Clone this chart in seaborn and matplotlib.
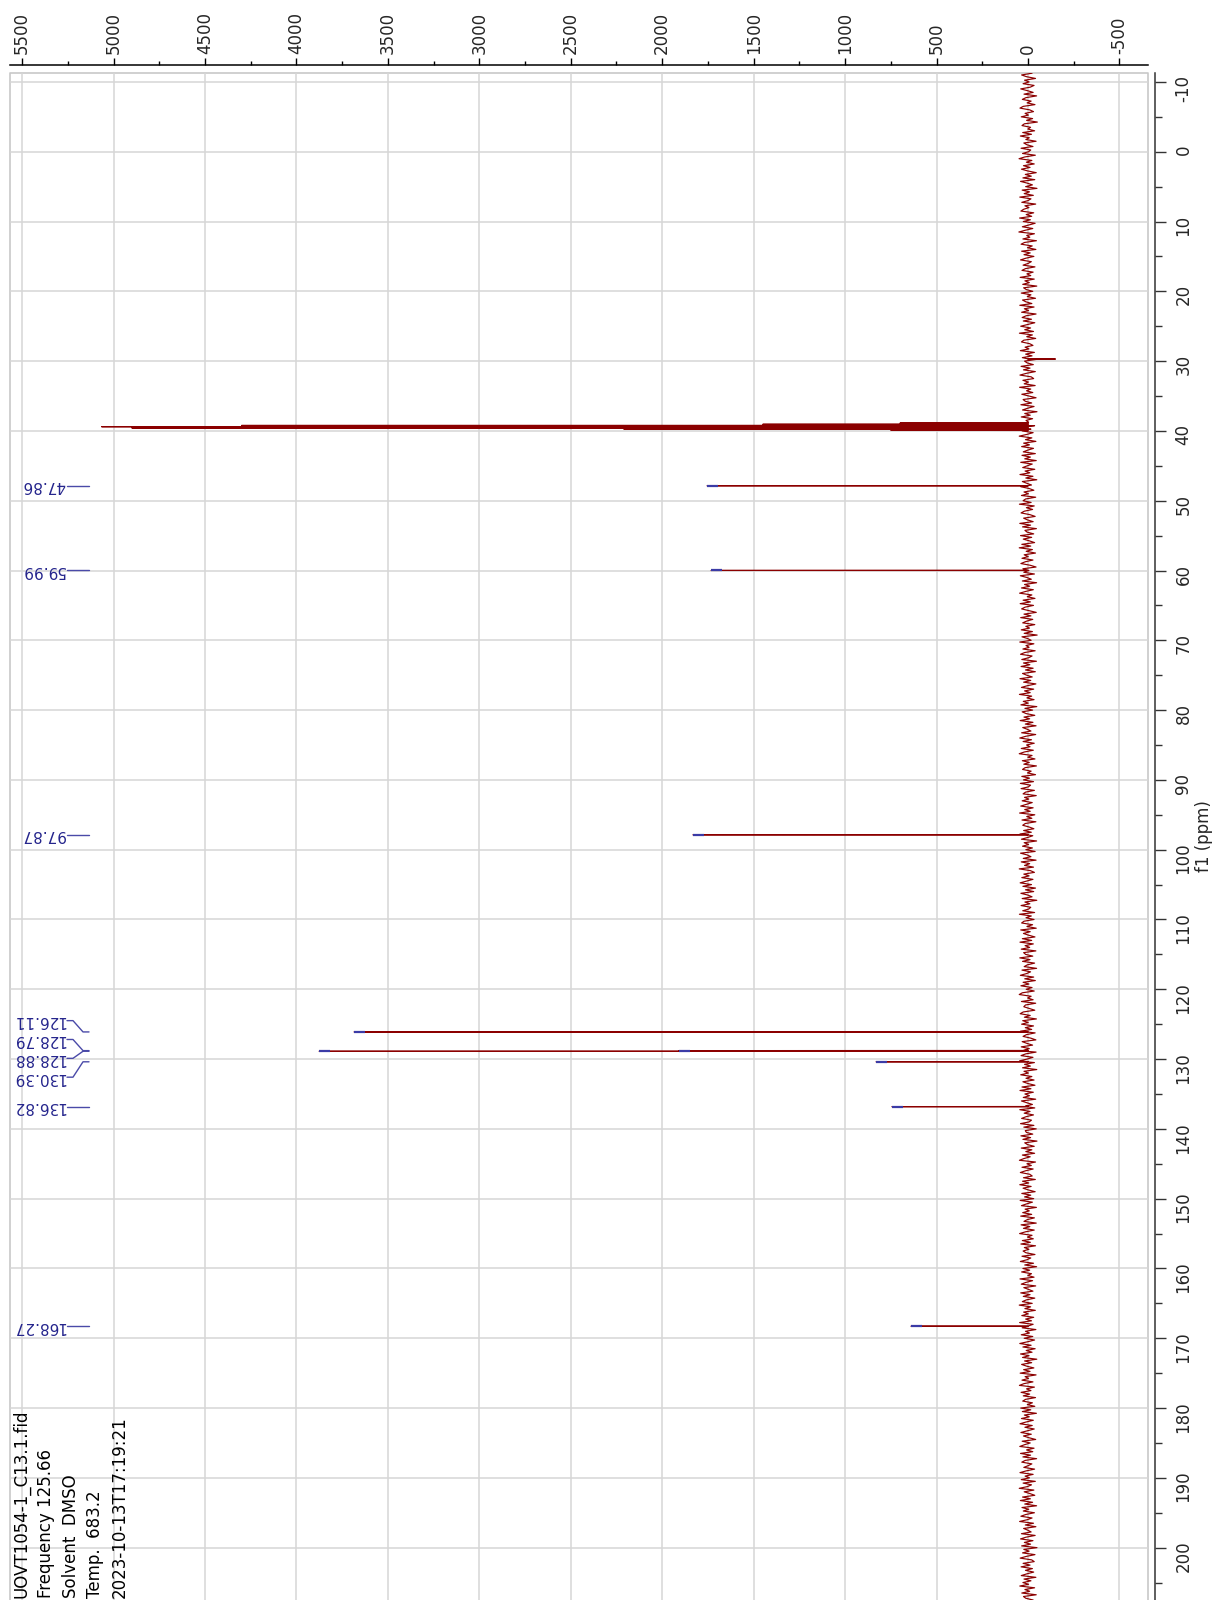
import numpy as np
import matplotlib
matplotlib.use("Agg")
import matplotlib.pyplot as plt
import matplotlib.transforms as mtransforms
import seaborn as sns

sns.set_style("white")
plt.rcParams["font.family"] = ["DejaVu Sans"]
plt.rcParams["axes.unicode_minus"] = False

# --- 13C spectrum data -------------------------------------------------------
# baseline noise, sampled every 0.25 ppm starting at -11.5 ppm
noise_start_ppm = -11.5
noise_step_ppm = 0.25
baseline_noise = [
    14, -22, 35, 8, -41, 19, -6, 27, -33, -12, 40, 3, -28, 22, -47, 11, 31, -17, 5, -38,
    26, 44, -9, -30, 16, -2, 37, -25, 8, -51, 20, 33, -14, 1, -36, 29, -19, 42, -7, 12,
    -44, 23, 6, -27, 38, -15, -3, 30, -40, 18, 49, -21, 9, -34, 25, -11, 36, 2, -45, 15,
    -18, 28, -37, 41, 4, -24, 13, -49, 32, -8, 21, -29, 45, -16, 0, 34, -42, 17, -5, 24,
    39, -31, 10, -20, 46, -13, 26, -39, -4, 31, -26, 15, 50, -35, 7, -10, 28, -46, 19, 38,
    -23, 3, -43, 35, -12, 22, -32, 11, 41, -18, -1, 27, -38, 14, 33, -28, 6, -15, 43, -34,
    17, -7, 29, -48, 24, 9, -26, 37, -16, 4, -41, 30, 12, -21, 45, -33, 20, -3, 35, -44,
    10, 32, -19, 26, -37, 1, 40, -14, 18, -30, 47, -24, 7, -42, 23, 36, -9, -27, 16, -5,
    42, -35, 13, -22, 31, -47, 19, 5, -29, 38, -11, 25, -40, 9, 44, -17, -31, 28, -2, 21,
    -39, 46, -15, 8, -26, 34, -6, -44, 27, 15, -20, 39, -33, 2, 30, -49, 18, -12, 37, -25,
    11, -3, 43, -36, 20, -16, 32, -28, 6, 48, -21, 14, -43, 24, -8, 35, -30, 1, 26, -40,
    33, -13, 18, -45, 40, -23, 4, 29, -37, 16, -10, 44, -27, 12, -48, 31, 7, -19, 39, -6,
    -32, 22, -2, 36, -42, 13, 27, -17, 47, -34, 9, -25, 20, 38, -11, -39, 24, 3, -28, 45,
    -14, 30, -46, 17, 5, -31, 41, -20, 26, -7, -36, 34, -15, 48, -24, 10, -41, 21, -1, 33,
    -27, 15, 39, -12, -44, 28, -5, 23, -35, 42, 6, -18, 31, -47, 19, -9, 36, -29, 13, 46,
    -21, 4, -38, 27, -13, 43, -30, 16, 35, -4, -45, 22, -16, 40, -26, 8, 29, -37, 12, -8,
    37, -24, 21, -50, 33, 2, -17, 45, -32, 11, -6, 28, -39, 18, 41, -22, -3, 34, -46, 25,
    -10, 38, -28, 14, -40, 30, 7, -23, 44, -15, 24, -43, 3, 36, -31, 19, -12, 47, -20, 6,
    -33, 26, -1, 39, -48, 17, -25, 32, 10, -37, 22, -9, 43, -27, 15, -44, 29, 4, -16, 35,
    -42, 12, 45, -19, 27, -34, 8, -11, 37, -29, 20, 48, -22, 1, -38, 31, -7, 23, -46, 16,
    30, -17, 3, -41, 34, -8, 25, -30, 42, -14, -2, 38, -35, 13, 27, -45, 19, -4, 32, -23,
    9, 40, -28, 18, -12, 46, -37, 7, -21, 33, -43, 15, 29, -6, -32, 24, -18, 44, -26, 2,
    36, -47, 21, -3, 30, -24, 12, -39, 41, 5, -16, 26, -44, 37, -9, 19, -30, 48, -13, -35,
    23, -6, 34, -27, 8, 43, -19, 28, -41, 14, -31, 39, 1, -22, 32, -48, 17, -10, 38, -15,
    -4, 29, -36, 47, -18, 11, -33, 22, 35, -25, 6, -45, 40, -12, 25, -3, -38, 31, -20, 44,
    -29, 16, -9, 37, -43, 24, 13, -26, 45, -11, 30, -36, 4, 21, -47, 33, -14, 8, 42, -31,
    18, -40, 27, -5, 39, -22, 10, -34, 31, 48, -17, 2, -28, 36, -42, 14, 23, -8, -37, 26,
    43, -12, 20, -46, 29, -1, 35, -30, 15, -20, 41, -39, 9, 27, -15, -43, 32, 6, -25, 37,
    -7, 24, -44, 12, 38, -27, 5, 46, -35, 19, -13, 30, -48, 22, -2, 40, -21, 11, -33, 28,
    1, -38, 33, -16, 44, -29, 17, -8, 26, -42, 36, 7, -24, 14, -37, 45, -11, 21, -30, 10,
    35, -19, -6, 41, -32, 23, -45, 15, 9, -26, 39, -14, 28, -49, 18, 3, -34, 37, -21, 12,
    -36, 31, -12, 22, 47, -41, 6, -18, 33, -28, 13, 42, -9, -23, 25, -40, 30, -4, 45, -17,
    27, -2, -39, 34, -15, 19, -31, 43, -24, 8, 36, -46, 16, -7, 29, -20, 40, -35, 4, 22,
    -45, 38, -10, 25, -34, 14, 46, -22, 3, -29, 31, -13, 39, -41, 20, -5, 27, 11, -38, 33,
    -15, 6, 42, -30, 18, -47, 28, -9, 35, -19, 1, -33, 44, -25, 12, 37, -42, 23, -3, -27,
    40, -11, 26, -37, 9, 31, -23, 48, -14, 17, -40, 24, -1, 34, -31, 13, -19, 46, -28, 5,
    32, -43, 14, -8, 37, -26, 21, -36, 2, 45, -17, 28, -39, 10, -22, 41, -6, 30, -48, 19,
    -20, 35, 7, -32, 24, -11, 43, -44, 16, -3, 33, -27, 22, 47, -35, 8, -16, 38, -9, 26,
    -41, 13, 29, -24, 4, -37, 40, -15, 31, -46, 20, -7, 36, -29, 11, 44, -23, 17, -34, 2,
    39, -18, 25, -5, -42, 32, -12, 19, 45, -33, 8, -26, 41, -14, 28, -47, 15, 34, -21, -1,
    23, -36, 10, 44, -28, 16, -8, 37, -40, 27, -19, 3, 48, -32, 21, -10, -37, 30, -13, 42,
    -25, 18, -47, 33, -4, 26, -35, 12, 39, -22, 5, 46, -30, 15, -43, 24, 1, -17, 36, -39,
    11, 41, -27, 20, -14, 35, -49, 23, -6, 30, -38, 9, 43, -20, -34, 27, -11, 38, -24, 14,
    -31, 6, 37, -43, 22, -16, 28, -3, 45, -36, 17, -9, 34, -45, 25, 12, -28, 40, -18, 29,
]

# resonance lines: position (ppm) and intensity (DMSO-d6 septet near 39.4 ppm)
line_ppm = [29.70, 38.88, 39.05, 39.22, 39.40, 39.57, 39.74, 39.91,
            47.86, 59.99, 97.87, 126.11, 128.79, 128.88, 130.39, 136.82, 168.27]
line_height = [-150, 700, 1450, 4300, 5065, 4900, 2210, 750,
               1755, 1733, 1832, 3685, 1908, 3876, 831, 744, 640]

# picked peaks (labelled)
picked_ppm = [47.86, 59.99, 97.87, 126.11, 128.79, 128.88, 130.39, 136.82, 168.27]
picked_labels = ["47.86", "59.99", "97.87", "126.11", "128.79", "128.88",
                 "130.39", "136.82", "168.27"]

info_lines = ["UOVT1054-1_C13.1.fid", "Frequency 125.66", "Solvent  DMSO",
              "Temp.  683.2", "2023-10-13T17:19:21"]

# --- assemble the trace --------------------------------------------------------
noise_ppm = noise_start_ppm + noise_step_ppm * np.arange(len(baseline_noise))
pts_ppm = list(noise_ppm)
pts_int = list(baseline_noise)
for p, h in zip(line_ppm, line_height):
    pts_ppm += [p - 0.025, p, p + 0.025]
    pts_int += [0, h, 0]
order = np.argsort(pts_ppm, kind="stable")
trace_ppm = np.asarray(pts_ppm)[order]
trace_int = np.asarray(pts_int)[order]

# --- figure --------------------------------------------------------------------
W, H = 1219, 1600
fig = plt.figure(figsize=(W / 100, H / 100), dpi=100)
ax_left, ax_right, ax_top = 10, 1148, 73
ax = fig.add_axes([ax_left / W, 0, (ax_right - ax_left) / W, (H - ax_top) / H])

sns.lineplot(x=trace_int, y=trace_ppm, sort=False, estimator=None, orient="y",
             color="#8B0000", lw=0.85, ax=ax)

ax.set_xlim(5566, -656)
ax.set_ylim(207.5, -11.28)

# peak-pick marks at the line tips
tip = dict(zip(line_ppm, line_height))
for p in picked_ppm:
    h = tip[p]
    ax.plot([h, h - 62], [p, p], color="#3b3ba6", lw=1.6, solid_capstyle="butt",
            zorder=5)

# peak labels, spread where lines crowd together
def spread(vals, gap):
    vals = list(vals)
    groups, cur = [], [vals[0]]
    for v in vals[1:]:
        if v - cur[-1] < gap:
            cur.append(v)
        else:
            groups.append(cur)
            cur = [v]
    groups.append(cur)
    out = []
    for g in groups:
        c = np.mean(g)
        n = len(g)
        out += [c + (i - (n - 1) / 2) * gap for i in range(n)]
    return out

label_pos = spread(picked_ppm, 2.7)
axw = ax_right - ax_left
fx = lambda px: (px - ax_left) / axw
blend = mtransforms.blended_transform_factory(ax.transAxes, ax.transData)
for p, lp, txt in zip(picked_ppm, label_pos, picked_labels):
    ax.text(fx(65), lp, txt, rotation=180, ha="right", va="center",
            fontsize=11, color="#24248c", transform=blend, clip_on=False)
    ax.plot([fx(67), fx(73), fx(83), fx(89)], [lp, lp, p, p], transform=blend,
            color="#4a4aa8", lw=1.0, clip_on=False)

# grid and light frame
ax.set_axisbelow(True)
ax.grid(True, color="#d6d6d6", lw=1.1)
ax.plot([0, 0, 1, 1], [0, 1, 1, 0], transform=ax.transAxes, color="#c8c8c8",
        lw=1.2, clip_on=False, zorder=0.5)

# intensity axis on top
ax.xaxis.set_ticks_position("top")
ax.set_xticks(np.arange(-500, 5501, 500))
ax.set_xticks(np.arange(-500, 5501, 250), minor=True)
ax.tick_params(axis="x", which="major", direction="out", length=5, width=1.0,
               labelsize=12, labelrotation=90, pad=3, color="black")
ax.tick_params(axis="x", which="minor", direction="out", length=3, width=1.0,
               color="black")

# chemical-shift axis on the right
ax.yaxis.tick_right()
ax.yaxis.set_label_position("right")
ax.set_yticks(np.arange(-10, 201, 10))
ax.set_yticks(np.arange(-10, 206, 5), minor=True)
ax.tick_params(axis="y", which="major", direction="out", length=8, width=1.0,
               labelsize=12, labelrotation=90, pad=6, color="#333333")
ax.tick_params(axis="y", which="minor", direction="out", length=5, width=1.0,
               color="#333333")
for lab in ax.get_yticklabels():
    lab.set_va("center")
ax.set_ylabel("f1 (ppm)", fontsize=12, rotation=90, labelpad=2)
ax.set_xlabel("")

for side in ("left", "bottom"):
    ax.spines[side].set_visible(False)
ax.spines["top"].set_position(("outward", 5.8))
ax.spines["top"].set_color("black")
ax.spines["top"].set_linewidth(1.1)
ax.spines["right"].set_position(("outward", 5.0))
ax.spines["right"].set_color("#333333")
ax.spines["right"].set_linewidth(1.1)

# acquisition parameters, bottom-left
for i, s in enumerate(info_lines):
    fig.text((21 + 24.8 * i) / W, 2 / H, s, rotation=90, ha="center", va="bottom",
             fontsize=12, color="black")

fig.savefig("out.png", dpi=100)
